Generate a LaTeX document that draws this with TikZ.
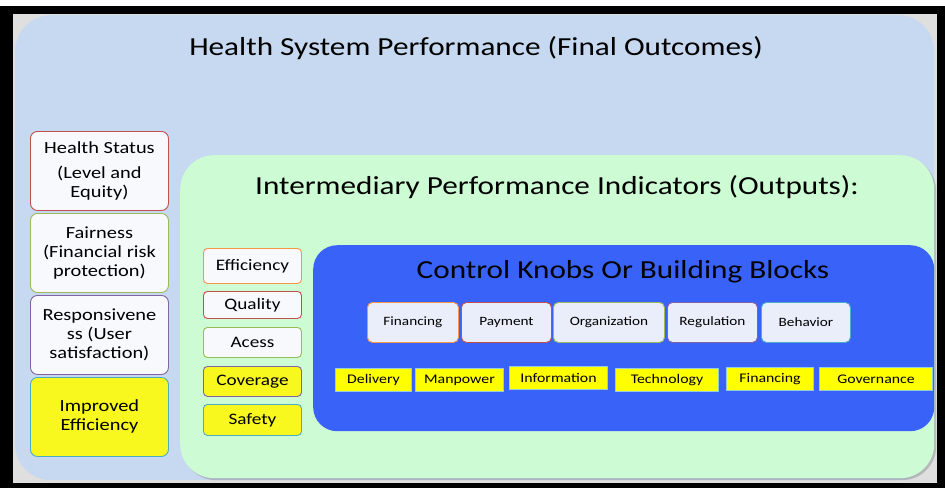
\documentclass[tikz,border=0pt]{standalone}
\usepackage{fontspec}
\setmainfont{Carlito}
\usetikzlibrary{shadows}
\definecolor{outerblue}{HTML}{C6D9F0}
\definecolor{midgreen}{HTML}{CDFBD3}
\definecolor{knobblue}{HTML}{3862F8}
\definecolor{boxwhite}{HTML}{F8F9FD}
\definecolor{knobfill}{HTML}{E9EEFA}
\definecolor{yel}{HTML}{F8F81E}
\definecolor{byel}{HTML}{FFFF00}
\definecolor{bred}{HTML}{C0504D}
\definecolor{bgreen}{HTML}{9BBB59}
\definecolor{bpurple}{HTML}{8064A2}
\definecolor{bcyan}{HTML}{4BACC6}
\definecolor{borange}{HTML}{F79646}
\newcommand{\wide}[1]{\scalebox{1.2}[1]{#1}}
\tikzset{
  panel/.style={anchor=north west, inner sep=0pt},
  lbox/.style={panel, draw, line width=0.9pt, rounded corners=7pt, fill=boxwhite,
    minimum width=138pt, minimum height=79pt, align=center, font=\fontsize{17}{19}\selectfont},
  mbox/.style={panel, draw, line width=0.9pt, rounded corners=4pt, fill=boxwhite,
    minimum width=98pt, align=center, font=\fontsize{16}{17}\selectfont},
  kbox/.style={panel, draw, line width=0.9pt, rounded corners=5pt, fill=knobfill,
    minimum height=40pt, align=center, font=\fontsize{12.7}{15}\selectfont},
  ybox/.style={panel, draw=bcyan!60, line width=1pt, fill=byel,
    minimum height=23pt, font=\fontsize{13.2}{15}\selectfont},
}
\begin{document}
\begin{tikzpicture}[x=1pt,y=-1pt]
\useasboundingbox (0,0) rectangle (945,488);
\fill[white] (0,0) rectangle (945,488);
\fill[black] (0,6) rectangle (945,488);
\fill[gray!25] (13,14) rectangle (937,483);
% outer panel
\node[panel, fill=outerblue, rounded corners=36pt, minimum width=919pt, minimum height=465pt] (outer) at (15,15) {};
\node[font=\fontsize{26}{30}\selectfont] (t1) at (476,48) {\wide{Health System Performance (Final Outcomes)}};
% green panel
\node[panel, fill=midgreen, rounded corners=34pt, minimum width=754pt, minimum height=323pt, drop shadow={shadow xshift=2pt, shadow yshift=-2pt, opacity=0.4}] (mid) at (180,155) {};
\node[font=\fontsize{26}{30}\selectfont] (t2) at (557,187) {\wide{Intermediary Performance Indicators (Outputs):}};
% knob panel
\node[panel, fill=knobblue, rounded corners=24pt, minimum width=621pt, minimum height=186pt] (knob) at (313,245) {};
\node[font=\fontsize{26}{30}\selectfont] (t3) at (623,272) {\wide{Control Knobs Or Building Blocks}};
% left boxes
\node[lbox, draw=bred] (hs) at (30,131) {\wide{Health Status}\\[6pt]\wide{(Level and}\\\wide{Equity)}};
\node[lbox, draw=bgreen] (fa) at (30,213) {\wide{Fairness}\\\wide{(Financial risk}\\\wide{protection)}};
\node[lbox, draw=bpurple] (re) at (30,295) {\wide{Responsivene}\\\wide{ss (User}\\\wide{satisfaction)}};
\node[lbox, draw=bcyan, fill=yel] (ie) at (30,377) {\wide{Improved}\\\wide{Efficiency}};
% mid boxes
\node[mbox, draw=borange, minimum height=35pt] (ef) at (203,248) {\wide{Efficiency}};
\node[mbox, draw=bred, minimum height=27pt] (qu) at (203,291) {\wide{Quality}};
\node[mbox, draw=bgreen, minimum height=30pt] (ac) at (203,327) {\wide{Acess}};
\node[mbox, draw=bpurple, fill=yel, minimum height=30pt] (co) at (203,366) {\wide{Coverage}};
\node[mbox, draw=bcyan, fill=yel, minimum height=31pt] (sa) at (203,404) {\wide{Safety}};
% knob boxes
\node[kbox, draw=borange, minimum width=91pt] (k1) at (367,302) {\wide{Financing}};
\node[kbox, draw=bred, minimum width=90pt] (k2) at (461,302) {\wide{Payment}};
\node[kbox, draw=bgreen, minimum width=111pt] (k3) at (553,302) {\wide{Organization}};
\node[kbox, draw=bpurple, minimum width=90pt] (k4) at (667,302) {\wide{Regulation}};
\node[kbox, draw=bcyan, minimum width=89pt] (k5) at (761,302) {\wide{Behavior}};
% yellow blocks
\node[ybox, minimum width=76pt] (y1) at (335,368) {\wide{Delivery}};
\node[ybox, minimum width=88pt] (y2) at (415,368) {\wide{Manpower}};
\node[ybox, minimum width=98pt] (y3) at (509,366) {\wide{Information}};
\node[ybox, minimum width=103pt] (y4) at (615,368) {\wide{Technology}};
\node[ybox, minimum width=87pt] (y5) at (726,367) {\wide{Financing}};
\node[ybox, minimum width=113pt] (y6) at (819,367) {\wide{Governance}};
\end{tikzpicture}
\end{document}
